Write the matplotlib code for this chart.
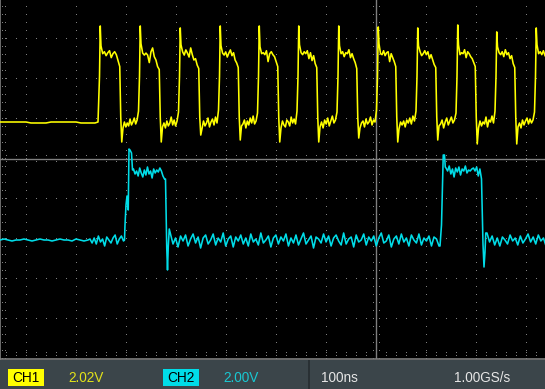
import numpy as np
import matplotlib
matplotlib.use("Agg")
import matplotlib.pyplot as plt
from matplotlib.patches import Rectangle
from matplotlib import font_manager

# scope settings
ch1_scale = 2.02   # V/div
ch2_scale = 2.00   # V/div
ch1_pos = 0.925    # div
ch2_pos = -2.025   # div
t_left, t_right = -752, 338   # ns shown on screen

# CH1: 12.5 MHz clock, edges (ns)
ch1_pre_t = [-752, -700, -690, -660, -650, -600, -590, -562, -556]
ch1_pre_v = [0.0, 0.0, -0.05, -0.05, 0.0, 0.0, -0.05, -0.05, 0.0]
ch1_rise = [-554, -474, -394, -314, -236, -157, -77, 2, 81, 161, 239, 318]
ch1_fall = [-511, -432, -353, -274, -195, -117, -37, 41, 121, 200, 279]
ch1_peak = [4.85, 4.85, 4.75, 4.85, 4.85, 4.85, 4.85, 4.80, 4.75, 4.90, 4.55, 4.75]
ch1_under = [-1.01, -1.01, -0.66, -0.91, -1.01, -1.01, -0.81, -1.01, -0.91, -1.11, -1.11]
ch1_high = [
    [3.84, 3.45, 3.55, 3.35, 3.50, 3.60, 3.25, 3.45, 3.55, 3.40, 3.10, 2.80],
    [3.95, 3.48, 3.38, 3.48, 3.38, 3.00, 3.54, 3.74, 3.30, 3.13, 2.80, 2.65],
    [3.90, 3.54, 3.38, 3.64, 3.48, 3.28, 3.74, 3.40, 3.13, 3.20, 2.88, 2.70],
    [3.85, 3.48, 3.38, 3.54, 3.28, 3.48, 3.64, 3.35, 3.50, 3.13, 2.98, 2.75],
    [3.80, 3.45, 3.50, 3.40, 3.60, 3.05, 3.45, 3.55, 3.40, 3.30, 3.05, 2.80],
    [3.90, 3.50, 3.40, 3.55, 3.45, 3.60, 3.20, 3.50, 3.10, 3.35, 2.95, 2.75],
    [3.85, 3.45, 3.55, 3.30, 3.50, 3.45, 3.65, 3.25, 3.45, 3.20, 3.00, 2.70],
    [3.95, 3.45, 3.40, 3.60, 3.35, 3.50, 3.55, 3.05, 3.45, 3.25, 3.05, 2.80],
    [3.85, 3.55, 3.35, 3.45, 3.60, 3.40, 3.55, 3.20, 3.40, 3.15, 2.90, 2.75],
    [3.90, 3.40, 3.50, 3.45, 3.65, 3.25, 3.55, 3.45, 3.30, 3.20, 3.00, 2.80],
    [3.80, 3.50, 3.40, 3.55, 3.30, 3.65, 3.40, 3.50, 3.20, 3.35, 2.95, 2.75],
    [3.90, 3.45, 3.55, 3.40, 3.60, 3.35],
]
ch1_low = [
    [-0.30, 0.00, -0.25, -0.05, -0.20, 0.15, -0.15, 0.00, 0.20, -0.10, 0.10, 0.55],
    [-0.25, -0.05, -0.30, 0.05, -0.20, -0.05, 0.25, -0.15, 0.10, -0.20, 0.05, 0.50],
    [-0.35, 0.05, -0.20, -0.05, 0.20, -0.25, 0.00, 0.15, -0.15, 0.25, -0.05, 0.60],
    [-0.20, -0.10, 0.10, -0.30, 0.05, -0.15, 0.20, -0.05, 0.30, -0.10, 0.05, 0.45],
    [-0.30, 0.05, -0.15, -0.25, 0.10, 0.00, -0.20, 0.25, -0.05, 0.15, -0.10, 0.55],
    [-0.25, 0.00, -0.30, 0.10, -0.10, 0.20, -0.20, 0.05, 0.30, -0.05, 0.10, 0.50],
    [-0.30, -0.05, 0.05, -0.25, 0.15, -0.10, 0.00, 0.25, -0.15, 0.10, 0.00, 0.60],
    [-0.35, 0.00, -0.15, 0.05, -0.25, 0.10, -0.05, 0.20, -0.10, 0.30, 0.05, 0.55],
    [-0.20, -0.10, 0.10, -0.30, 0.00, 0.20, -0.15, 0.05, 0.25, -0.05, 0.10, 0.45],
    [-0.30, 0.05, -0.20, 0.00, -0.10, 0.25, -0.25, 0.10, 0.00, 0.30, -0.05, 0.55],
    [-0.25, -0.05, -0.30, 0.10, -0.15, 0.05, 0.20, -0.10, 0.15, -0.05, 0.10, 0.50],
]
ch1_edge_v = 2.3    # mid-edge sample on the rising edge
ch1_knee_v = 0.25   # mid-edge sample on the falling edge

# CH2: two data pulses (ns, V)
ch2_flat_v = [0.0, 0.05, 0.0, -0.05, 0.0, 0.0, 0.05, 0.0, -0.05, 0.0, 0.05, 0.0,
              0.0, -0.05, 0.0, 0.05, 0.0, 0.0, -0.05, 0.05, 0.0, -0.05, 0.0]
ch2_pre_v = [0.05, -0.15, 0.10, -0.20, 0.20, -0.10, 0.05, -0.30, 0.15, 0.00,
             -0.15, 0.10, 0.25, -0.20, 0.05, 0.20, -0.05]
ch2_p1_edge_t = [-503, -502, -500, -498, -495.5, -494, -492, -489, -487]
ch2_p1_edge_v = [0.0, 0.75, 1.75, 2.2, 1.5, 4.55, 4.5, 4.35, 3.5]
ch2_p1_high = [3.55, 3.30, 3.45, 3.20, 3.60, 3.35, 3.15, 3.50, 3.25, 3.65, 3.30,
               3.45, 3.10, 3.55, 3.35, 3.50, 3.40, 3.60, 3.45, 3.20, 3.05]
ch2_p1_fall_t = [-421, -418.5, -417, -415.5, -413.5]
ch2_p1_fall_v = [3.05, -0.4, -1.5, -0.35, 0.55]
ch2_mid_v = [
    0.30, -0.20, 0.10, -0.35, 0.20, -0.05, 0.25, -0.30, 0.05, 0.30,
    -0.15, 0.15, -0.40, 0.10, 0.25, -0.20, 0.00, 0.30, -0.25, 0.10,
    -0.10, 0.35, -0.30, 0.05, 0.20, -0.35, 0.15, -0.05, 0.25, -0.20,
    0.10, -0.30, 0.30, -0.10, 0.05, -0.25, 0.35, -0.15, 0.00, 0.20,
    -0.35, 0.10, 0.25, -0.20, 0.15, -0.05, 0.30, -0.30, 0.10, -0.15,
    0.25, -0.25, 0.05, 0.35, -0.20, 0.00, 0.20, -0.40, 0.15, 0.05,
    -0.15, 0.30, -0.10, 0.20, -0.30, 0.10, 0.25, -0.05, -0.25, 0.35,
    -0.20, 0.05, 0.15, -0.35, 0.25, -0.10, 0.00, 0.30, -0.25, 0.15,
    -0.05, 0.20, -0.30, 0.10, 0.35, -0.15, -0.05, 0.25, -0.35, 0.05,
    0.20, -0.20, 0.30, -0.10, 0.10, -0.30, 0.25, 0.00, -0.15, 0.30,
    -0.25, 0.10, -0.05, 0.20, -0.30, 0.15, 0.05, -0.30]
ch2_p2_edge_t = [128, 131, 133, 134.5, 137, 138.5]
ch2_p2_edge_v = [-0.3, 0.75, 2.65, 4.25, 4.25, 3.65]
ch2_p2_high = [3.60, 3.45, 3.70, 3.30, 3.55, 3.15, 3.60, 3.40, 3.65, 3.25, 3.55,
               3.45, 3.70, 3.35, 3.50, 3.45, 3.55, 3.60, 3.45, 3.65, 3.20, 3.55, 3.05]
ch2_p2_fall_t = [214, 216, 218, 219.5]
ch2_p2_fall_v = [-0.2, -1.35, -0.6, 0.35]
ch2_post_v = [0.35, -0.10, 0.20, -0.25, 0.10, -0.30, 0.15, 0.00, -0.20, 0.25,
              -0.05, 0.10, -0.25, 0.20, -0.15, 0.05, 0.30, -0.10, 0.15, -0.20,
              0.25, -0.05, 0.10, -0.30]

readout = {"ch1": "2.02V", "ch2": "2.00V", "time": "100ns", "rate": "1.00GS/s"}

YEL = "#ffff00"
CYA = "#00dde8"
GRID = "#7f7f7f"


def build_ch1():
    t, v = list(ch1_pre_t), list(ch1_pre_v)
    for i, r in enumerate(ch1_rise):
        t += [r + 1, r + 2.5]
        v += [ch1_edge_v, ch1_peak[i]]
        hi = ch1_high[i]
        if i < len(ch1_fall):
            f = ch1_fall[i]
            t += list(np.linspace(r + 4, f - 1.5, len(hi)))
            v += hi
            nxt = ch1_rise[i + 1]
            t += [f + 0.5, f + 2.5]
            v += [ch1_knee_v, ch1_under[i]]
            t += list(np.linspace(f + 5, nxt - 1, len(ch1_low[i])))
            v += ch1_low[i]
        else:
            t += list(r + 4 + 3.2 * np.arange(len(hi)))
            v += hi
    return np.array(t), np.array(v)


def build_ch2():
    t = list(np.linspace(-752, -576, len(ch2_flat_v)))
    v = list(ch2_flat_v)
    t += list(np.linspace(-572, -505, len(ch2_pre_v)))
    v += ch2_pre_v
    t += ch2_p1_edge_t; v += ch2_p1_edge_v
    t += list(np.linspace(-485, -423, len(ch2_p1_high))); v += ch2_p1_high
    t += ch2_p1_fall_t; v += ch2_p1_fall_v
    t += list(np.linspace(-411, 126, len(ch2_mid_v))); v += ch2_mid_v
    t += ch2_p2_edge_t; v += ch2_p2_edge_v
    t += list(np.linspace(140, 211, len(ch2_p2_high))); v += ch2_p2_high
    t += ch2_p2_fall_t; v += ch2_p2_fall_v
    t += list(np.linspace(222, 340, len(ch2_post_v))); v += ch2_post_v
    return np.array(t), np.array(v)


fig = plt.figure(figsize=(5.45, 3.89), dpi=100, facecolor="black")
ax = fig.add_axes([0, 30 / 389, 1, 359 / 389])
ax.set_zorder(1)
ax.set_facecolor("black")
ax.set_xlim(t_left, t_right)
ax.set_ylim(-5.0, 3.975)
ax.set_xticks([]); ax.set_yticks([])
for s in ["top", "right"]:
    ax.spines[s].set_visible(False)
for s in ["left", "bottom"]:
    ax.spines[s].set_color(GRID)
    ax.spines[s].set_linewidth(1.2)

# graticule
ydots = np.arange(-5, 3.95, 0.2)
xdots = np.arange(-740, 340, 20)
for gx in range(-700, 301, 100):
    if gx != 0:
        ax.plot(np.full_like(ydots, gx), ydots, ",", color=GRID)
for gy in range(-4, 4):
    if gy != 0:
        ax.plot(xdots, np.full_like(xdots, gy, dtype=float), ",", color=GRID)
ax.plot([t_left, t_right], [0, 0], color=GRID, lw=1.0)
ax.plot([0, 0], [-4.97, 3.975], color=GRID, lw=1.0)
for dy in (-0.075, 0.075):
    ax.plot(xdots, np.full_like(xdots, dy, dtype=float), ",", color=GRID)
for dx in (-6, 6):
    ax.plot(np.full_like(ydots, dx), ydots, ",", color=GRID)
for dx in (4, 10):
    ax.plot(np.full_like(ydots, t_left + dx), ydots, ",", color=GRID)
for dy in (0.075, 0.15):
    ax.plot(xdots, np.full_like(xdots, -5 + dy, dtype=float), ",", color=GRID)

t1, v1 = build_ch1()
t2, v2 = build_ch2()
ax.plot(t1, v1 / ch1_scale + ch1_pos, color=YEL, lw=1.15, zorder=5)
ax.plot(t2, v2 / ch2_scale + ch2_pos, color=CYA, lw=1.15, zorder=6)

# readout bar
names = {f.name for f in font_manager.fontManager.ttflist}
if "Liberation Sans Narrow" in names:
    fam, fs = "Liberation Sans Narrow", 10.8
else:
    fam, fs = "Liberation Sans", 9.8

bar = fig.add_axes([0, 0, 1, 29 / 389])
bar.set_zorder(10)
bar.set_facecolor("#3b454a")
bar.set_xlim(0, 545); bar.set_ylim(389, 360)
bar.set_xticks([]); bar.set_yticks([])
for s in bar.spines.values():
    s.set_visible(False)
bar.add_patch(Rectangle((0, 360), 545, 29, color="#3b454a", lw=0, zorder=0))
bar.plot([309.4, 309.4], [360, 389], color="#262c30", lw=1.2)
bar.add_patch(Rectangle((8.2, 369), 35.6, 16.7, color=YEL, lw=0))
bar.add_patch(Rectangle((163.3, 369), 35.9, 16.7, color=CYA, lw=0))
ty = 377.6
bar.text(26, ty, "CH1", color="black", ha="center", va="center", family=fam, fontsize=fs)
bar.text(181.2, ty, "CH2", color="black", ha="center", va="center", family=fam, fontsize=fs)
bar.text(68.3, ty, readout["ch1"], color="#e2e21a", ha="left", va="center", family=fam, fontsize=fs)
bar.text(223.3, ty, readout["ch2"], color="#19c8d2", ha="left", va="center", family=fam, fontsize=fs)
bar.text(321.5, ty, readout["time"], color="#e6e6e6", ha="left", va="center", family=fam, fontsize=fs)
bar.text(453.6, ty, readout["rate"], color="#e6e6e6", ha="left", va="center", family=fam, fontsize=fs)

fig.savefig("out.png", dpi=100, facecolor="black")
